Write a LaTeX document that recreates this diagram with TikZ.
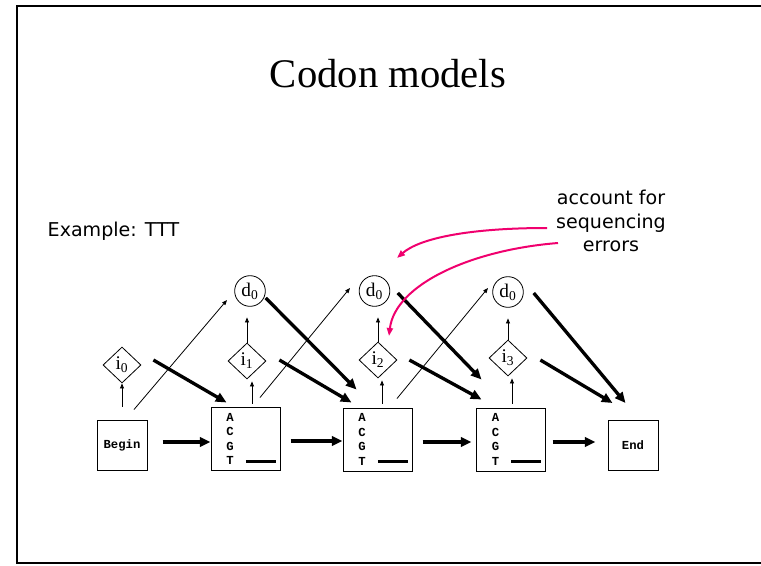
\documentclass[tikz,border=0pt]{standalone}
\usepackage{fontspec}
\setmainfont{Liberation Serif}
\setmonofont{Liberation Mono}
\newfontfamily\handfont{DejaVu Sans}
\usetikzlibrary{arrows.meta, calc, shapes.geometric}

\definecolor{notepink}{RGB}{240,0,110}

\tikzset{
  statebox/.style={draw, line width=.75pt, minimum size=37.5pt, inner sep=0pt,
    font=\ttfamily\bfseries\fontsize{9.2}{10.9}\selectfont},
  matchbox/.style={draw, line width=.75pt, minimum height=47.25pt, inner xsep=11.6pt,
    text width=28.55pt, align=left, font=\ttfamily\bfseries\fontsize{9.2}{10.9}\selectfont},
  insnode/.style={draw, diamond, line width=.6pt, minimum width=28.5pt, minimum height=27pt,
    inner sep=0pt, font=\fontsize{14.5}{16}\selectfont},
  delnode/.style={draw, circle, line width=.6pt, minimum size=23pt, inner sep=0pt,
    font=\fontsize{14.5}{16}\selectfont},
  thickarr/.style={line width=2.5pt, -{Triangle[length=8pt,width=7pt]}},
  thinarr/.style={line width=.6pt, -{Triangle[length=3.8pt,width=3pt]}},
  notearr/.style={notepink, line width=1.5pt, -{Triangle[length=6pt,width=4.5pt]}}
}

\begin{document}
\begin{tikzpicture}[x=0.75pt, y=-0.75pt]
\useasboundingbox (0,0) rectangle (761,565);
% slide frame
\draw[line width=1.5pt] (761,6) -- (17,6) -- (17,563) -- (761,563);

\node[anchor=base, font=\fontsize{30.5}{36}\selectfont] (title) at (388,87) {Codon models};
\node[anchor=base west, font=\handfont\fontsize{14.3}{17}\selectfont] (example) at (43,236) {Example: TTT};
\node[align=center, font=\handfont\fontsize{14.3}{17.6}\selectfont] (note) at (611,221)
  {account for\\sequencing\\errors};

% states
\node[statebox] (beginbox) at (122,445) {Begin};
\node[matchbox] (m1) at (245.5,439) {A\\C\\G\\T\hspace{9pt}\rlap{\rule[1.5pt]{22.5pt}{2.2pt}}};
\node[matchbox] (m2) at (377.5,439.5) {A\\C\\G\\T\hspace{9pt}\rlap{\rule[1.5pt]{22.5pt}{2.2pt}}};
\node[matchbox] (m3) at (511,439.5) {A\\C\\G\\T\hspace{9pt}\rlap{\rule[1.5pt]{22.5pt}{2.2pt}}};
\node[statebox] (endbox) at (633,445.5) {End};

\node[insnode] (i0) at (122,365) {i\textsubscript{0}};
\node[insnode] (i1) at (247,361) {i\textsubscript{1}};
\node[insnode] (i2) at (378,360) {i\textsubscript{2}};
\node[insnode] (i3) at (508,358) {i\textsubscript{3}};

\node[delnode] (d1) at (250,291) {d\textsubscript{0}};
\node[delnode] (d2) at (374.5,291) {d\textsubscript{0}};
\node[delnode] (d3) at (508,292) {d\textsubscript{0}};

% match chain
\draw[thickarr] ($(beginbox.east)+(15,-3)$) -- ($(m1.west)+(0,3)$);
\draw[thickarr] ($(m1.east)+(10,2)$) -- ($(m2.west)+(0,1.5)$);
\draw[thickarr] ($(m2.east)+(10,2.5)$) -- ($(m3.west)+(-4.5,2.5)$);
\draw[thickarr] ($(m3.east)+(6.5,2.5)$) -- ($(endbox.west)+(-12,-3.5)$);

% into the inserts
\draw[thinarr] ($(beginbox.north)+(0,-13)$) -- (i0.south);
\draw[thinarr] ($(m1.north)+(6.5,-3.5)$) -- ($(i1.south)+(5,2)$);
\draw[thinarr] ($(m2.north)+(4.5,-4)$) -- ($(i2.south)+(4,2)$);
\draw[thinarr] ($(m3.north)+(1,-4)$) -- ($(i3.south)+(4,2)$);

% inserts up to deletes
\foreach \k in {1,2,3}
  \draw[thinarr, shorten >=8pt] (i\k.north) -- (i\k.north |- d\k.south);

% skipping into the deletes
\draw[thinarr] ($(beginbox.north)+(12,-10)$) -- ($(d1)+(-23,9)$);
\draw[thinarr] ($(m1.north)+(14.5,-9.5)$) -- ($(d2)+(-24.5,-3)$);
\draw[thinarr] ($(m2.north)+(19.5,-9)$) -- ($(d3)+(-20,-4)$);

% back into the next match
\draw[thickarr] ($(i0.east)+(12,-5)$) -- ($(m1.north west)+(16,-4.5)$);
\draw[thickarr] ($(d1.east)+(0,7)$) -- ($(m2.north west)+(14,-18)$);
\draw[thickarr] ($(i1.east)+(13,-1)$) -- ($(m2.north west)+(9,-5)$);
\draw[thickarr] ($(d2.east)+(7.5,2)$) -- ($(m3.north west)+(5.5,-28)$);
\draw[thickarr] ($(i2.east)+(12,0)$) -- ($(m3.north west)+(5.5,-8)$);
\draw[thickarr] ($(d3.east)+(10,1)$) -- ($(endbox.north west)+(18,-17)$);
\draw[thickarr] ($(i3.east)+(13,2)$) -- ($(endbox.north west)+(5,-17)$);

% sequencing errors
\coordinate (errA) at (397,258);
\coordinate (errB) at (389,336);
\draw[notearr] ($(note)+(-64,7)$) .. controls (470,228) and (420,238) .. (errA);
\draw[notearr] ($(note)+(-53,22)$) .. controls (470,250) and (395,285) .. (errB);
\end{tikzpicture}
\end{document}
